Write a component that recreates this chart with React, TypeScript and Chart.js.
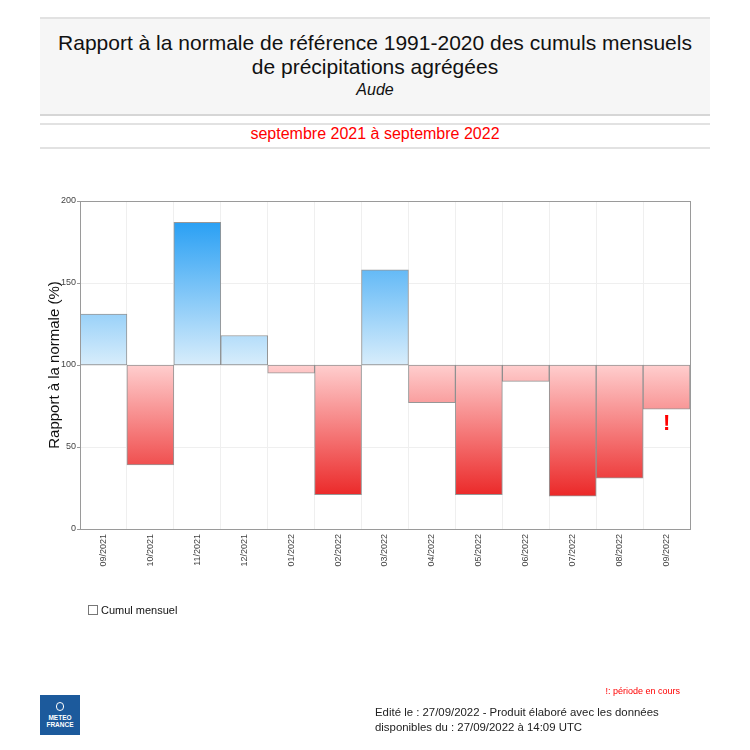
import React, { useEffect, useRef } from "react";
import { Chart, registerables } from "chart.js";

Chart.register(...registerables);

const months = ["09/2021", "10/2021", "11/2021", "12/2021", "01/2022", "02/2022", "03/2022", "04/2022", "05/2022", "06/2022", "07/2022", "08/2022", "09/2022"];
const ratios = [131, 39, 187, 118, 95, 21, 158, 77, 21, 90, 20, 31, 73];
const ongoing = [false, false, false, false, false, false, false, false, false, false, false, false, true];
const normalValue = 100;
const yTicks = { min: 0, max: 200, step: 50 };

const FONT = "'Liberation Sans', Arial, sans-serif";

const framePlugin = {
  id: "frame",
  afterDatasetsDraw(chart: any) {
    const { ctx, chartArea, scales } = chart;
    ctx.save();
    ctx.strokeStyle = "#9a9a9a";
    ctx.lineWidth = 1;
    ctx.strokeRect(Math.round(chartArea.left) + 0.5, Math.round(chartArea.top) + 0.5, Math.round(chartArea.right - chartArea.left), Math.round(chartArea.bottom - chartArea.top));
    const meta = chart.getDatasetMeta(0);
    ctx.fillStyle = "#ff0000";
    ctx.font = "bold 22px " + FONT;
    ctx.textAlign = "center";
    ctx.textBaseline = "top";
    ongoing.forEach((flag, i) => {
      if (!flag) return;
      const el = meta.data[i];
      const v = ratios[i];
      const y = scales.y.getPixelForValue(Math.min(v, normalValue)) + 4;
      ctx.fillText("!", el.x, y);
    });
    ctx.restore();
  },
};

function barColor(context: any) {
  const chart = context.chart;
  const { ctx, chartArea, scales } = chart;
  if (!chartArea) return "rgba(0,0,0,0)";
  const v = ratios[context.dataIndex];
  const y = scales.y;
  if (v >= normalValue) {
    const g = ctx.createLinearGradient(0, y.getPixelForValue(normalValue), 0, y.getPixelForValue(200));
    g.addColorStop(0, "rgb(216,237,251)");
    g.addColorStop(0.87, "rgb(42,160,244)");
    g.addColorStop(1, "rgb(35,155,243)");
    return g;
  }
  const g = ctx.createLinearGradient(0, y.getPixelForValue(normalValue), 0, y.getPixelForValue(0));
  g.addColorStop(0, "rgb(255,206,206)");
  g.addColorStop(0.8, "rgb(235,40,40)");
  g.addColorStop(1, "rgb(230,30,30)");
  return g;
}

export default function App() {
  const ref = useRef<HTMLCanvasElement>(null);
  useEffect(() => {
    if (!ref.current) return;
    const chart = new Chart(ref.current, {
      type: "bar",
      data: {
        labels: months,
        datasets: [
          {
            label: "Cumul mensuel",
            data: ratios.map((v) => [normalValue, v]) as any,
            backgroundColor: barColor as any,
            borderColor: "rgba(125,125,125,0.8)",
            borderWidth: 1,
            borderSkipped: false,
            barPercentage: 1,
            categoryPercentage: 1,
          },
        ],
      },
      options: {
        responsive: false,
        animation: false,
        layout: { padding: { left: 30, right: 60, top: 201, bottom: 161 } },
        plugins: { legend: { display: false }, tooltip: { enabled: false }, title: { display: false } },
        scales: {
          x: {
            grid: { color: "#efefef", offset: true, drawTicks: false },
            border: { display: false },
            ticks: { font: { size: 9, family: FONT }, color: "#444", minRotation: 90, maxRotation: 90, padding: 5 },
            afterFit: (s: any) => { s.height = 60; },
          },
          y: {
            min: yTicks.min,
            max: yTicks.max,
            grid: { color: "#efefef", tickLength: 3, tickColor: "#999" },
            border: { display: false },
            ticks: { stepSize: yTicks.step, font: { size: 9, family: FONT }, color: "#444", padding: 1 },
            title: { display: true, text: "Rapport à la normale (%)", font: { size: 15, family: FONT }, color: "#111", padding: { top: 16, bottom: 0 } },
            afterFit: (s: any) => { s.width = 50; },
          },
        },
      },
      plugins: [framePlugin],
    });
    return () => chart.destroy();
  }, []);

  const abs = (o: any): React.CSSProperties => ({ position: "absolute", ...o });

  return (
    <div style={{ position: "absolute", left: 0, top: 0, width: 750, height: 750, background: "#fff", fontFamily: FONT, overflow: "hidden" }}>
      <div style={abs({ left: 40, top: 17, width: 670, height: 95, background: "#f6f6f6", borderTop: "2px solid #e2e2e2", borderBottom: "2px solid #d6d6d6" })} />
      <div style={abs({ left: 40, top: 31, width: 670, textAlign: "center", fontSize: 21, lineHeight: "24px", color: "#111" })}>
        Rapport à la normale de référence 1991-2020 des cumuls mensuels
        <br />
        de précipitations agrégées
      </div>
      <div style={abs({ left: 40, top: 81, width: 670, textAlign: "center", fontSize: 16, fontStyle: "italic", color: "#111" })}>Aude</div>
      <div style={abs({ left: 40, top: 123, width: 670, height: 22, borderTop: "2px solid #e2e2e2", borderBottom: "2px solid #e2e2e2" })} />
      <div style={abs({ left: 40, top: 124, width: 670, textAlign: "center", fontSize: 16, lineHeight: "20px", color: "#ff0000" })}>septembre 2021 à septembre 2022</div>
      <canvas ref={ref} width={750} height={750} style={abs({ left: 0, top: 0, width: 750, height: 750 })} />
      <div style={abs({ left: 88, top: 604, fontSize: 11, color: "#111", display: "flex", alignItems: "center" })}>
        <span style={{ display: "inline-block", width: 8, height: 8, border: "1px solid #777", marginRight: 3 }} />
        Cumul mensuel
      </div>
      <div style={abs({ left: 40, top: 695, width: 40, height: 40, background: "#1c5a9c", color: "#fff", textAlign: "center", fontWeight: "bold", fontSize: 6.5, lineHeight: "7px" })}>
        <div style={{ margin: "7px auto 3px", width: 8, height: 9, border: "1.5px solid #fff", borderRadius: 4, boxSizing: "border-box" }} />
        METEO<br />FRANCE
      </div>
      <div style={abs({ left: 560, top: 686, width: 120, textAlign: "right", fontSize: 9, color: "#ff0000" })}>!: période en cours</div>
      <div style={abs({ left: 375, top: 705, fontSize: 11.4, lineHeight: "15px", color: "#222" })}>
        Edité le : 27/09/2022 - Produit élaboré avec les données
        <br />
        disponibles du : 27/09/2022 à 14:09 UTC
      </div>
    </div>
  );
}
